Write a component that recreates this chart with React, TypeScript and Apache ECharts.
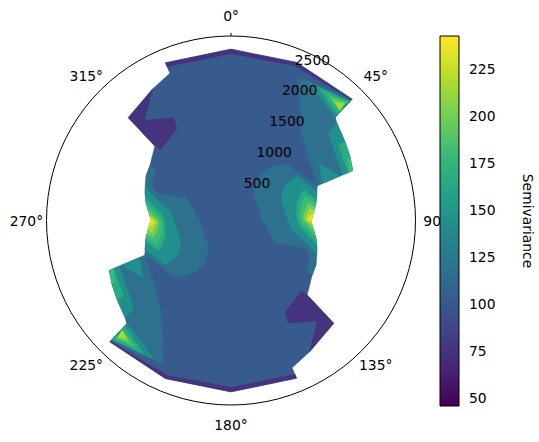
import React, { useEffect, useRef } from "react";
import * as echarts from "echarts";

type P = [number, number]; // [angle in degrees, radius (lag)]

const FONT = "DejaVu Sans";
const FONT_SIZE = 13.89;

const angleTicks = [0, 45, 90, 135, 180, 225, 270, 315];
const angleLabels = ["0°", "45°", "90°", "135°", "180°", "225°", "270°", "315°"];
const radialTicks = [500, 1000, 1500, 2000, 2500];
const barTicks = [50, 75, 100, 125, 150, 175, 200, 225];
const barRange = [45.7, 242.7];
const barTitle = "Semivariance";

const viridis = ["#440154", "#482878", "#3e4989", "#31688e", "#26828e", "#1f9e89", "#35b779", "#6ece58", "#b5de2b", "#fde725"];

const cBlue = "#375b8d";
const cPurple = "#46337e";
const cTealBlue = "#2d718e";
const cTeal = "#21908d";
const cG1 = "#27ad81";
const cG2 = "#3fbc73";
const cG3 = "#6ccd5a";
const cG4 = "#a5db36";
const cG5 = "#dde318";
const cG6 = "#f1e51d";

const outline: P[] = [
  [0, 2572], [22.5, 2568], [45, 2575], [45.3, 2200], [47.2, 2160], [55.3, 2079], [61.8, 2025], [67.7, 1972], [68, 1395],
  [78.6, 1300], [89.6, 1204], [90.9, 1200], [101.8, 1302], [107.9, 1356], [117.6, 1440], [123.8, 1468],
  [134.3, 1599], [135, 2182], [149.3, 2300], [157.4, 2392], [157.4, 2565], [180, 2572], [202.5, 2568],
  [225, 2575], [225.3, 2200], [227.2, 2160], [235.3, 2079], [241.8, 2025], [247.7, 1972], [248, 1395],
  [258.6, 1300], [269.6, 1204], [270.9, 1200], [281.8, 1302], [287.9, 1356], [297.6, 1440], [303.8, 1468],
  [314.3, 1599], [315, 2182], [329.3, 2300], [337.4, 2392], [337.4, 2565],
];

const stripTop: P[] = [[-22.6, 2565], [0, 2572], [22.5, 2568], [45, 2575], [45, 2560], [42, 2528], [34.6, 2490], [22.4, 2512], [0, 2500], [-22.6, 2500]];
const stripBottom: P[] = [[157.4, 2565], [180, 2572], [202.5, 2568], [225, 2575], [225, 2560], [222, 2528], [214.6, 2490], [202.4, 2512], [180, 2500], [157.4, 2500]];
const wedgeLowerRight: P[] = [[134.3, 1599], [135, 2182], [149.3, 2300], [139.3, 1988], [150.9, 1766], [149.5, 1598], [135.1, 1497]];
const wedgeUpperLeft: P[] = [[314.3, 1599], [315, 2182], [329.3, 2300], [319.3, 1988], [330.9, 1766], [329.5, 1598], [315.1, 1497]];

const shoulderRight: P[] = [[25.1, 2382], [34.6, 2438], [45, 2547], [45.3, 2200], [47.2, 2160], [55.3, 2079], [61.8, 2025], [67.7, 1972], [68, 1395], [49.4, 1509], [39, 1685], [31.6, 1976]];
const shoulderLeft: P[] = [[205.1, 2382], [214.6, 2438], [225, 2547], [225.3, 2200], [227.2, 2160], [235.3, 2079], [241.8, 2025], [247.7, 1972], [248, 1395], [229.4, 1509], [219, 1685], [211.6, 1976]];

const moundRight: P[] = [[68, 1395], [52.7, 1226], [44.2, 1197], [36.2, 990], [31.9, 774], [38.6, 522], [63.2, 459], [89, 460], [97.5, 515], [117.4, 744], [113.5, 884], [110.6, 1185], [113.6, 1293], [123.9, 1379], [123.8, 1468], [117.6, 1440], [107.9, 1356], [101.8, 1302], [90.9, 1200], [89.6, 1204], [78.6, 1300]];
const moundLeft: P[] = [[248, 1395], [232.7, 1226], [224.2, 1197], [216.2, 990], [211.9, 774], [218.6, 522], [243.2, 459], [269, 460], [277.5, 515], [297.4, 744], [293.5, 884], [290.6, 1185], [293.6, 1293], [303.9, 1379], [303.8, 1468], [297.6, 1440], [287.9, 1356], [281.8, 1302], [270.9, 1200], [269.6, 1204], [258.6, 1300]];

const peakR1: P[] = [[71.4, 1365], [55.7, 1193], [56.7, 969], [61.8, 863], [69.7, 812], [86.1, 837], [98.9, 921], [103.2, 1064], [109.7, 1311], [111.9, 1390], [107.9, 1356], [101.8, 1302], [90.9, 1200], [89.6, 1204], [78.6, 1300]];
const peakR2: P[] = [[76.4, 1320], [67.1, 1178], [75.3, 1018], [88.1, 986], [95.1, 1040], [105.2, 1332], [101.8, 1302], [90.9, 1200], [89.6, 1204], [78.6, 1300]];
const peakR3: P[] = [[78.2, 1304], [72.2, 1166], [80, 1050], [90, 1035], [94.8, 1115], [101.3, 1298], [90.9, 1200], [89.6, 1204]];
const peakR4: P[] = [[80.8, 1282], [77.5, 1188], [84.3, 1090], [89.6, 1085], [93.3, 1161], [97.9, 1265], [90.9, 1200], [89.6, 1204]];
const peakR5: P[] = [[83.4, 1258], [81.2, 1198], [88.1, 1110], [89.6, 1125], [93.5, 1224], [90.9, 1200], [89.6, 1204]];
const peakR6: P[] = [[85, 1240], [87.2, 1161], [89.6, 1148], [92.5, 1215], [90.9, 1200], [89.6, 1204]];
const peakR7: P[] = [[86.8, 1226], [88.9, 1170], [91.1, 1203], [89.6, 1204]];

const peakL1: P[] = [[251.4, 1365], [235.7, 1193], [236.7, 969], [241.8, 863], [249.7, 812], [266.1, 837], [278.9, 921], [283.2, 1064], [289.7, 1311], [291.9, 1390], [287.9, 1356], [281.8, 1302], [270.9, 1200], [269.6, 1204], [258.6, 1300]];
const peakL2: P[] = [[256.4, 1320], [247.1, 1178], [255.3, 1018], [268.1, 986], [275.1, 1040], [285.2, 1332], [281.8, 1302], [270.9, 1200], [269.6, 1204], [258.6, 1300]];
const peakL3: P[] = [[258.2, 1304], [252.2, 1166], [260, 1050], [270, 1035], [274.8, 1115], [281.3, 1298], [270.9, 1200], [269.6, 1204]];
const peakL4: P[] = [[260.8, 1282], [257.5, 1188], [264.3, 1090], [269.6, 1085], [273.3, 1161], [277.9, 1265], [270.9, 1200], [269.6, 1204]];
const peakL5: P[] = [[263.4, 1258], [261.2, 1198], [268.1, 1110], [269.6, 1125], [273.5, 1224], [270.9, 1200], [269.6, 1204]];
const peakL6: P[] = [[265, 1240], [267.2, 1161], [269.6, 1148], [272.5, 1215], [270.9, 1200], [269.6, 1204]];
const peakL7: P[] = [[266.8, 1226], [268.9, 1170], [271.1, 1203], [269.6, 1204]];

const tipR1: P[] = [[29.1, 2378], [45, 2535], [45.3, 2205], [43.2, 2205]];
const tipR2: P[] = [[33.2, 2390], [44.8, 2520], [45, 2250]];
const tipR3: P[] = [[37.1, 2379], [44.2, 2487], [44.9, 2303]];
const tipR4: P[] = [[39.5, 2375], [44, 2459], [44.8, 2321]];
const tipR5: P[] = [[41.3, 2361], [44, 2442], [44.6, 2325]];
const tipL1: P[] = [[209.1, 2378], [225, 2535], [225.3, 2205], [223.2, 2205]];
const tipL2: P[] = [[213.2, 2390], [224.8, 2520], [225, 2250]];
const tipL3: P[] = [[217.1, 2379], [224.2, 2487], [224.9, 2303]];
const tipL4: P[] = [[219.5, 2375], [224, 2459], [224.8, 2321]];
const tipL5: P[] = [[221.3, 2361], [224, 2442], [224.6, 2325]];

const sideR1: P[] = [[47.2, 2160], [48.1, 1961], [67.9, 1808], [67.7, 1972], [61.8, 2025], [55.3, 2079]];
const sideR2: P[] = [[55.3, 2079], [54.9, 1968], [67.8, 1899], [67.7, 1972], [61.8, 2025]];
const sideR3: P[] = [[61.8, 2025], [62.5, 1962], [67.7, 1914], [67.7, 1972]];
const sideR4: P[] = [[57, 1575], [68, 1478], [67.9, 1770]];
const sideL1: P[] = [[227.2, 2160], [228.1, 1961], [247.9, 1808], [247.7, 1972], [241.8, 2025], [235.3, 2079]];
const sideL2: P[] = [[235.3, 2079], [234.9, 1968], [247.8, 1899], [247.7, 1972], [241.8, 2025]];
const sideL3: P[] = [[241.8, 2025], [242.5, 1962], [247.7, 1914], [247.7, 1972]];
const sideL4: P[] = [[237, 1575], [248, 1478], [247.9, 1770]];

const bands: { ring: P[]; color: string }[] = [
  { ring: outline, color: cBlue },
  { ring: stripTop, color: cPurple },
  { ring: stripBottom, color: cPurple },
  { ring: wedgeLowerRight, color: cPurple },
  { ring: wedgeUpperLeft, color: cPurple },
  { ring: shoulderRight, color: cTealBlue },
  { ring: shoulderLeft, color: cTealBlue },
  { ring: moundRight, color: cTealBlue },
  { ring: moundLeft, color: cTealBlue },
  { ring: peakR1, color: cTeal },
  { ring: peakL1, color: cTeal },
  { ring: tipR1, color: cTeal },
  { ring: tipL1, color: cTeal },
  { ring: sideR1, color: cTeal },
  { ring: sideL1, color: cTeal },
  { ring: sideR4, color: cTeal },
  { ring: sideL4, color: cTeal },
  { ring: peakR2, color: cG1 },
  { ring: peakL2, color: cG1 },
  { ring: tipR2, color: cG1 },
  { ring: tipL2, color: cG1 },
  { ring: sideR2, color: cG1 },
  { ring: sideL2, color: cG1 },
  { ring: peakR3, color: cG2 },
  { ring: peakL3, color: cG2 },
  { ring: tipR3, color: cG2 },
  { ring: tipL3, color: cG2 },
  { ring: sideR3, color: cG2 },
  { ring: sideL3, color: cG2 },
  { ring: peakR4, color: cG3 },
  { ring: peakL4, color: cG3 },
  { ring: tipR4, color: cG3 },
  { ring: tipL4, color: cG3 },
  { ring: peakR5, color: cG4 },
  { ring: peakL5, color: cG4 },
  { ring: tipR5, color: cG4 },
  { ring: tipL5, color: cG4 },
  { ring: peakR6, color: cG5 },
  { ring: peakL6, color: cG5 },
  { ring: peakR7, color: cG6 },
  { ring: peakL7, color: cG6 },
];

const R_MAX = 2768;
const LABEL_R = 3070;
const TICK_R = 2815;

export default function App() {
  const ref = useRef<HTMLDivElement>(null);
  useEffect(() => {
    document.body.style.margin = "0";
    const chart = echarts.init(ref.current!, undefined, { renderer: "svg" });
    const text = (pt: number[], s: string, align: string, verticalAlign: string) => ({
      type: "text",
      x: pt[0],
      y: pt[1],
      style: { text: s, fill: "#000", fontFamily: FONT, fontSize: FONT_SIZE, align, verticalAlign },
    });
    chart.setOption({
      animation: false,
      backgroundColor: "#fff",
      polar: { center: [231, 220.5], radius: 184.5 },
      angleAxis: {
        type: "value",
        min: 0,
        max: 360,
        startAngle: 90,
        clockwise: true,
        axisLine: { lineStyle: { color: "#000", width: 1 } },
        axisTick: { show: false },
        axisLabel: { show: false },
        splitLine: { show: false },
      },
      radiusAxis: {
        type: "value",
        min: 0,
        max: R_MAX,
        axisLine: { show: false },
        axisTick: { show: false },
        axisLabel: { show: false },
        splitLine: { show: false },
      },
      grid: { left: 440, top: 36, width: 19, height: 370 },
      xAxis: { type: "value", min: 0, max: 1, show: false },
      yAxis: {
        type: "value",
        position: "right",
        min: barRange[0],
        max: barRange[1],
        axisLine: { show: false },
        splitLine: { show: false },
        axisTick: { show: true, length: 5, customValues: barTicks, lineStyle: { color: "#000", width: 1 } },
        axisLabel: { customValues: barTicks, color: "#000", fontFamily: FONT, fontSize: FONT_SIZE, margin: 10 },
        name: barTitle,
        nameLocation: "middle",
        nameRotate: -90,
        nameGap: 62,
        nameTextStyle: { color: "#000", fontFamily: FONT, fontSize: FONT_SIZE },
      },
      series: [
        {
          type: "custom",
          name: "angle labels",
          coordinateSystem: "polar",
          z: 1,
          silent: true,
          data: angleTicks.map((a) => [LABEL_R, a]),
          renderItem: (p: any, api: any) =>
            text(api.coord([api.value(0), api.value(1)]), angleLabels[p.dataIndex], "center", "middle"),
        },
        {
          type: "custom",
          name: "top tick",
          coordinateSystem: "polar",
          z: 1,
          silent: true,
          data: [[TICK_R, 0]],
          renderItem: (_p: any, api: any) => {
            const a = api.coord([R_MAX, api.value(1)]);
            const b = api.coord([api.value(0), api.value(1)]);
            return {
              type: "line",
              shape: { x1: a[0], y1: a[1], x2: b[0], y2: b[1] },
              style: { stroke: "#000", lineWidth: 1 },
            };
          },
        },
        {
          type: "custom",
          name: "semivariance bands",
          coordinateSystem: "polar",
          z: 2,
          silent: true,
          data: bands.map(() => [0, 0]),
          renderItem: (p: any, api: any) => ({
            type: "polygon",
            shape: { points: bands[p.dataIndex].ring.map(([angle, radius]) => api.coord([radius, angle])) },
            style: { fill: bands[p.dataIndex].color, stroke: bands[p.dataIndex].color, lineWidth: 0.3 },
          }),
        },
        {
          type: "custom",
          name: "radial labels",
          coordinateSystem: "polar",
          z: 4,
          silent: true,
          data: radialTicks.map((r) => [r, 22.5]),
          renderItem: (p: any, api: any) =>
            text(api.coord([api.value(0), api.value(1)]), String(radialTicks[p.dataIndex]), "left", "bottom"),
        },
        {
          type: "custom",
          name: "colorbar",
          coordinateSystem: "cartesian2d",
          z: 10,
          silent: true,
          data: [[0, barRange[0]]],
          renderItem: (_p: any, api: any) => {
            const a = api.coord([0, barRange[1]]);
            const b = api.coord([1, barRange[0]]);
            return {
              type: "rect",
              shape: { x: a[0], y: a[1], width: b[0] - a[0], height: b[1] - a[1] },
              style: {
                fill: new echarts.graphic.LinearGradient(
                  0, 1, 0, 0,
                  viridis.map((color, i) => ({ offset: i / (viridis.length - 1), color }))
                ),
                stroke: "#000",
                lineWidth: 1,
              },
            };
          },
        },
      ],
    });
    return () => chart.dispose();
  }, []);
  return <div ref={ref} style={{ position: "fixed", left: 0, top: 0, width: 539, height: 442 }} />;
}
